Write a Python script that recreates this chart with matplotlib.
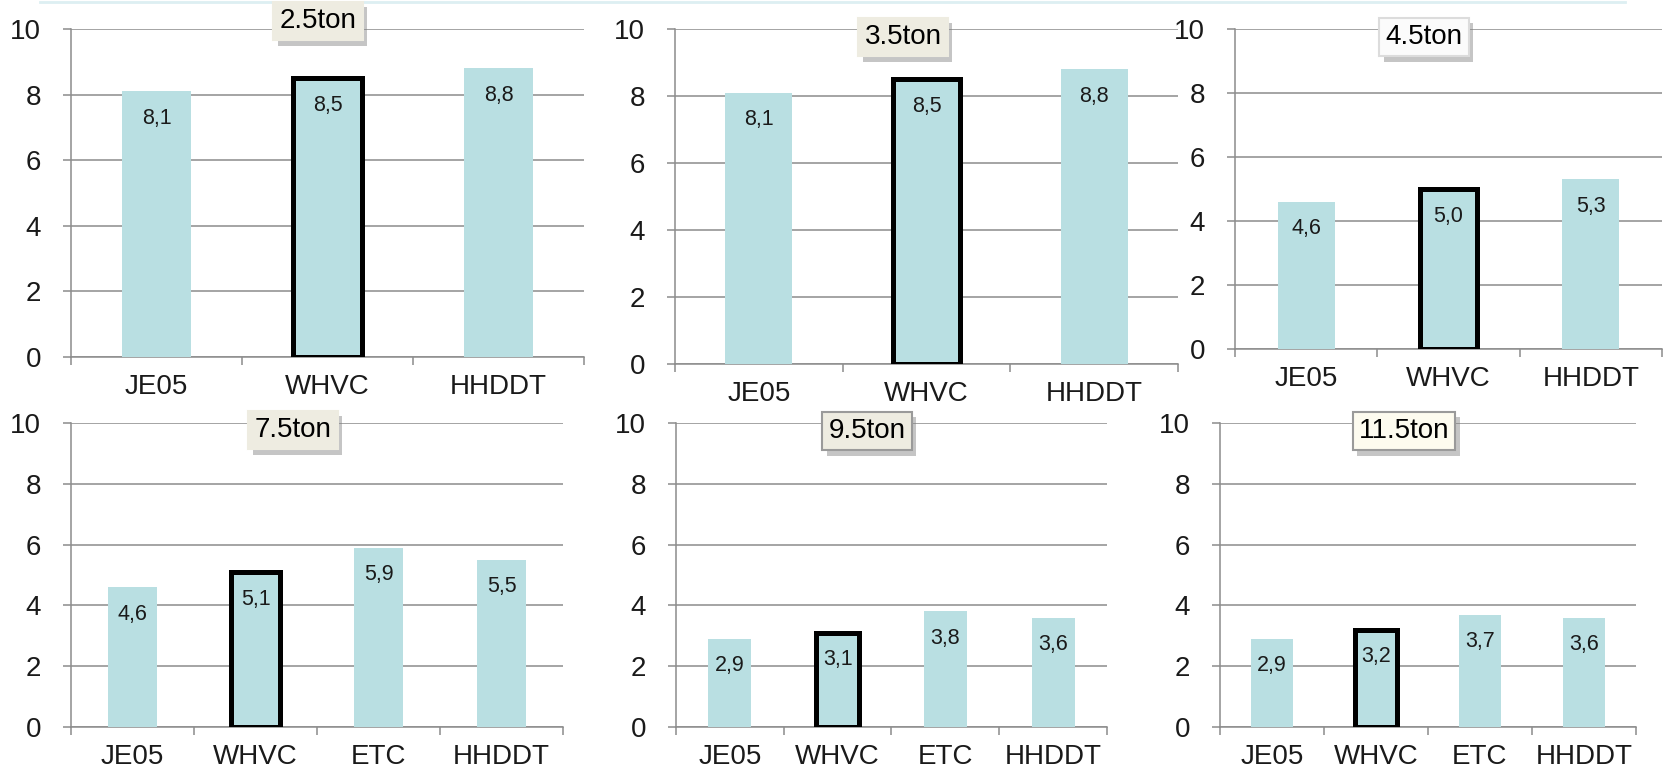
"""
Fuel economy by test cycle for six vehicle weight classes.

Each panel compares the cycles (JE05, WHVC, ETC, HHDDT) for one weight
class; the WHVC bar is outlined since it is the reference cycle.
"""

import matplotlib.pyplot as plt
from matplotlib.lines import Line2D
from matplotlib.ticker import FixedLocator
import matplotlib.patheffects as pe

W, H = 1665, 770

BAR_COLOR = "#B9DFE2"
GRID_COLOR = "#8C8C8C"
TEXT_COLOR = "#1A1A1A"
FONT = ["Liberation Sans", "DejaVu Sans"]

# --- Data ---------------------------------------------------------------

weight_classes = ["2.5ton", "3.5ton", "4.5ton", "7.5ton", "9.5ton", "11.5ton"]

cycles_small = ["JE05", "WHVC", "HHDDT"]
cycles_large = ["JE05", "WHVC", "ETC", "HHDDT"]

values_2_5 = [8.1, 8.5, 8.8]
values_3_5 = [8.1, 8.5, 8.8]
values_4_5 = [4.6, 5.0, 5.3]
values_7_5 = [4.6, 5.1, 5.9, 5.5]
values_9_5 = [2.9, 3.1, 3.8, 3.6]
values_11_5 = [2.9, 3.2, 3.7, 3.6]

HIGHLIGHT = "WHVC"

# --- Layout (pixels) ----------------------------------------------------
# rect: left, top, right, bottom of the plot area; title: centre of the
# weight-class label; box: face / edge colour of that label.

PANELS = [
    dict(cats=cycles_small, vals=values_2_5, rect=(71, 29, 584, 357),
         title=(318, 21), box=("#EEECE1", "#EEECE1")),
    dict(cats=cycles_small, vals=values_3_5, rect=(675, 29, 1178, 364),
         title=(903, 37), box=("#EEECE1", "#EEECE1")),
    dict(cats=cycles_small, vals=values_4_5, rect=(1235, 29, 1662, 349),
         title=(1424, 37), box=("#FBFBFB", "#DCDCDC")),
    dict(cats=cycles_large, vals=values_7_5, rect=(71, 423, 563, 727),
         title=(293, 430), box=("#EEECE1", "#EEECE1")),
    dict(cats=cycles_large, vals=values_9_5, rect=(676, 423, 1107, 727),
         title=(867, 431), box=("#EEECE1", "#9A9A9A")),
    dict(cats=cycles_large, vals=values_11_5, rect=(1220, 423, 1636, 727),
         title=(1404, 431), box=("#FDFBEF", "#9A9A9A")),
]


def px_rect(x0, y0, x1, y1):
    return [x0 / W, 1 - y1 / H, (x1 - x0) / W, (y1 - y0) / H]


def draw_panel(fig, panel, title):
    ax = fig.add_axes(px_rect(*panel["rect"]))
    cats, vals = panel["cats"], panel["vals"]
    xs = range(len(cats))

    edge_colors = ["black" if c == HIGHLIGHT else BAR_COLOR for c in cats]
    edge_widths = [3.6 if c == HIGHLIGHT else 0 for c in cats]
    ax.bar(xs, vals, width=0.4, color=BAR_COLOR, edgecolor=edge_colors,
           linewidth=edge_widths, zorder=3)

    for x, v in zip(xs, vals):
        ax.annotate(f"{v:.1f}".replace(".", ","), (x, v), xytext=(0, -19.5),
                    textcoords="offset points", ha="center", va="center",
                    fontsize=15.5, color=TEXT_COLOR, family=FONT, zorder=4)

    n = len(cats)
    ax.set_xlim(-0.5, n - 0.5)
    ax.set_ylim(0, 10)
    ax.set_yticks(range(0, 11, 2))
    ax.set_xticks(list(xs))
    ax.set_xticklabels(cats)
    ax.xaxis.set_minor_locator(FixedLocator([i - 0.5 for i in range(n + 1)]))

    ax.grid(axis="y", color=GRID_COLOR, linewidth=1.1)
    ax.set_axisbelow(True)
    for side in ("top", "right"):
        ax.spines[side].set_visible(False)
    for side in ("left", "bottom"):
        ax.spines[side].set_color(GRID_COLOR)
        ax.spines[side].set_linewidth(1.1)

    ax.tick_params(axis="y", length=5.5, width=1.1, color=GRID_COLOR, pad=16,
                   labelsize=20, labelcolor=TEXT_COLOR)
    ax.tick_params(axis="x", which="major", length=0, pad=12,
                   labelsize=20, labelcolor=TEXT_COLOR)
    ax.tick_params(axis="x", which="minor", length=6, width=1.1, color=GRID_COLOR)
    for lbl in ax.get_xticklabels() + ax.get_yticklabels():
        lbl.set_family(FONT)

    # weight-class label box with a soft drop shadow
    cx, cy = panel["title"]
    face, edge = panel["box"]
    t = fig.text(cx / W, 1 - cy / H, title, ha="center", va="center",
                 fontsize=20, color="black", family=FONT, zorder=10,
                 bbox=dict(boxstyle="square,pad=0.22", fc=face, ec=edge, lw=1.5))
    t.get_bbox_patch().set_path_effects([
        pe.SimplePatchShadow(offset=(3, -4), shadow_rgbFace="#808080", alpha=0.45),
        pe.Normal(),
    ])
    return ax


def main():
    fig = plt.figure(figsize=(W / 100, H / 100), dpi=100)

    # thin rule along the top edge
    fig.add_artist(Line2D([40 / W, 1625 / W], [1 - 1.5 / H, 1 - 1.5 / H],
                          color="#DDEFF2", linewidth=2))

    for panel, title in zip(PANELS, weight_classes):
        draw_panel(fig, panel, title)

    fig.savefig("out.png", dpi=100)


if __name__ == "__main__":
    main()
